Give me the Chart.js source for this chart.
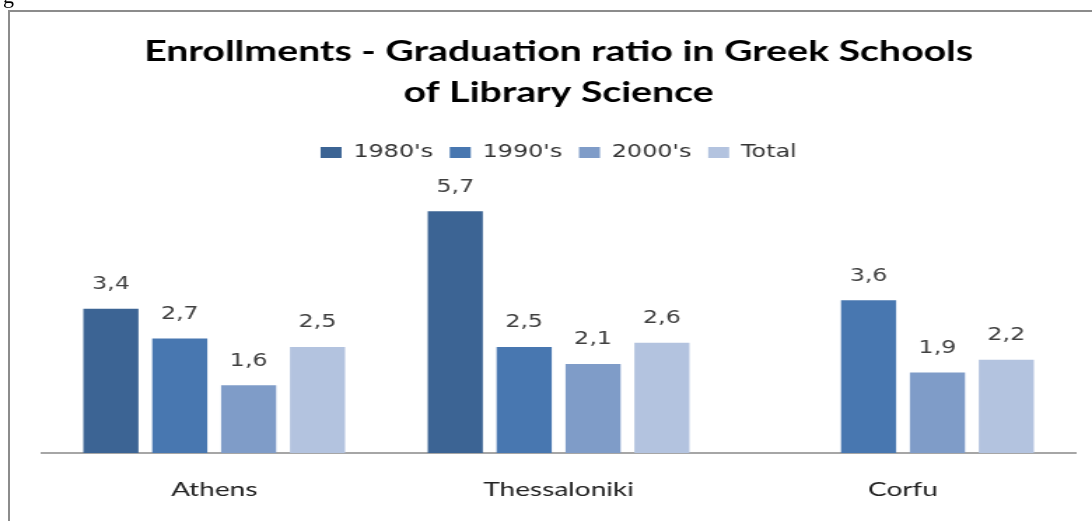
<!DOCTYPE html>
<html>
<head>
<meta charset="utf-8">
<script src="https://cdn.jsdelivr.net/npm/chart.js@4/dist/chart.umd.min.js"></script>
<style>
  html, body { margin: 0; padding: 0; background: #fff; overflow: hidden; }
  #wrap { position: relative; width: 1092px; height: 521px; }
  #frame { position: absolute; left: 8px; top: 10px; width: 1100px; height: 530px;
           border: 2px solid #8c8c8c; box-sizing: border-box; pointer-events: none; }
  #cut { position: absolute; left: 3px; top: -17px; font-family: "Liberation Serif", serif; font-size: 22px; color: #000; }
  canvas { position: absolute; left: 0; top: 0; }
</style>
</head>
<body>
<div id="wrap">
  <canvas id="c" width="780" height="521" style="width:1092px;height:521px"></canvas>
  <div id="frame"></div>
  <div id="cut">g</div>
</div>
<script>
const categories = ["Athens", "Thessaloniki", "Corfu"];
const seriesNames = ["1980's", "1990's", "2000's", "Total"];
const s1980 = [3.4, 5.7, null];
const s1990 = [2.7, 2.5, 3.6];
const s2000 = [1.6, 2.1, 1.9];
const sTotal = [2.5, 2.6, 2.2];
const colors = ["#3c6494", "#4877b0", "#7f9cc8", "#b3c3df"];
const titleLines = ["Enrollments - Graduation ratio in Greek Schools", "of Library Science"];

const valueLabels = {
  id: 'valueLabels',
  afterDatasetsDraw(chart) {
    const ctx = chart.ctx;
    ctx.save();
    ctx.font = '17px "DejaVu Sans"';
    ctx.fillStyle = '#404040';
    ctx.textAlign = 'center';
    ctx.textBaseline = 'middle';
    chart.data.datasets.forEach((ds, i) => {
      const meta = chart.getDatasetMeta(i);
      meta.data.forEach((bar, j) => {
        const v = ds.data[j];
        if (v === null || v === undefined) return;
        ctx.fillText(v.toFixed(1).replace('.', ','), bar.x, bar.y - 24);
      });
    });
    ctx.restore();
  }
};

new Chart(document.getElementById('c'), {
  type: 'bar',
  data: {
    labels: categories,
    datasets: [s1980, s1990, s2000, sTotal].map((d, i) => ({
      label: seriesNames[i],
      data: d,
      backgroundColor: colors[i],
      borderWidth: 0,
      categoryPercentage: 0.8,
      barPercentage: 0.8
    }))
  },
  options: {
    responsive: false,
    maintainAspectRatio: false,
    animation: false,
    devicePixelRatio: 1,
    layout: { padding: { left: 30, right: 12, top: 20, bottom: -6 } },
    plugins: {
      title: {
        display: true,
        text: titleLines,
        color: '#000',
        font: { family: 'Lato', size: 28, weight: 'bold', lineHeight: 1.464 },
        padding: { top: 11, bottom: 19 }
      },
      legend: {
        display: true,
        position: 'top',
        labels: {
          color: '#333',
          font: { family: 'DejaVu Sans', size: 17 },
          boxWidth: 15, boxHeight: 11, padding: 12
        }
      },
      tooltip: { enabled: false }
    },
    scales: {
      x: {
        grid: { display: false, drawTicks: false },
        border: { display: true, color: '#a6a6a6', width: 2 },
        ticks: { color: '#222', font: { family: 'Lato', size: 20 }, padding: 25 }
      },
      y: {
        display: false,
        min: 0, max: 6.65
      }
    }
  },
  plugins: [valueLabels]
});
</script>
</body>
</html>
